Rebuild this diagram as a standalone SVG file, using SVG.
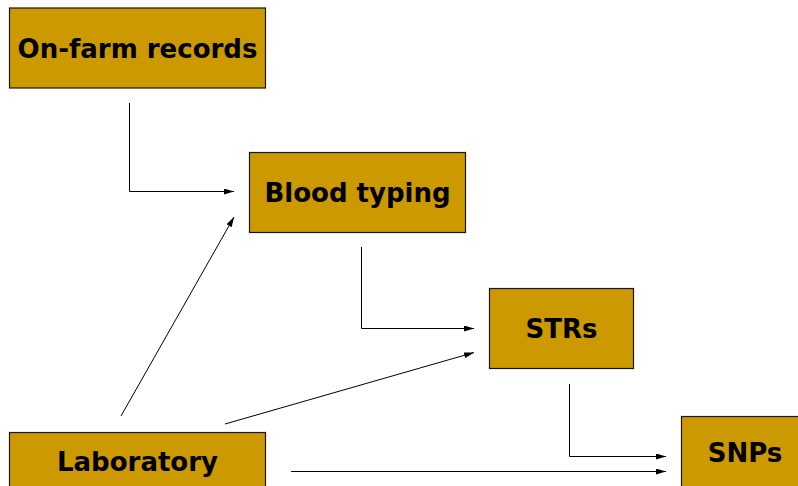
<svg xmlns="http://www.w3.org/2000/svg" width="798" height="486" viewBox="0 0 798 486">
  <style>
    .box { fill: #CC9900; stroke: #1a1400; stroke-width: 1.2; }
    .lbl { font-family: "DejaVu Sans", Verdana, sans-serif; font-weight: bold; font-size: 26px; fill: #000; text-anchor: middle; dominant-baseline: central; }
    .conn { fill: none; stroke: #000; stroke-width: 1; }
  </style>
  <defs>
    <marker id="arrow" viewBox="0 0 10 6" refX="10" refY="3" markerWidth="10" markerHeight="6" markerUnits="userSpaceOnUse" orient="auto">
      <path d="M0,0 L10,3 L0,6 Z" fill="#000"/>
    </marker>
  </defs>
  <rect width="798" height="486" fill="#fff"/>

  <g id="onfarm">
    <rect class="box" x="9.5" y="8" width="256" height="80"/>
    <text class="lbl" x="137.5" y="49">On-farm records</text>
  </g>
  <g id="bloodtyping">
    <rect class="box" x="249.5" y="152.5" width="216" height="80"/>
    <text class="lbl" x="357.5" y="193">Blood typing</text>
  </g>
  <g id="strs">
    <rect class="box" x="489.5" y="288.5" width="144" height="80"/>
    <text class="lbl" x="561.5" y="329">STRs</text>
  </g>
  <g id="laboratory">
    <rect class="box" x="9.5" y="432.5" width="256" height="80"/>
    <text class="lbl" x="137.5" y="462">Laboratory</text>
  </g>
  <g id="snps">
    <rect class="box" x="681.5" y="416.5" width="140" height="80"/>
    <text class="lbl" x="745" y="453">SNPs</text>
  </g>

  <g id="connectors">
    <path class="conn" d="M129.5,103 V191.5 H234" marker-end="url(#arrow)"/>
    <path class="conn" d="M121,416 L234,217" marker-end="url(#arrow)"/>
    <path class="conn" d="M361.5,247 V328.5 H474" marker-end="url(#arrow)"/>
    <path class="conn" d="M225,424 L474,352.5" marker-end="url(#arrow)"/>
    <path class="conn" d="M569.5,384 V456.5 H666" marker-end="url(#arrow)"/>
    <path class="conn" d="M291,471.5 H666" marker-end="url(#arrow)"/>
  </g>
</svg>
